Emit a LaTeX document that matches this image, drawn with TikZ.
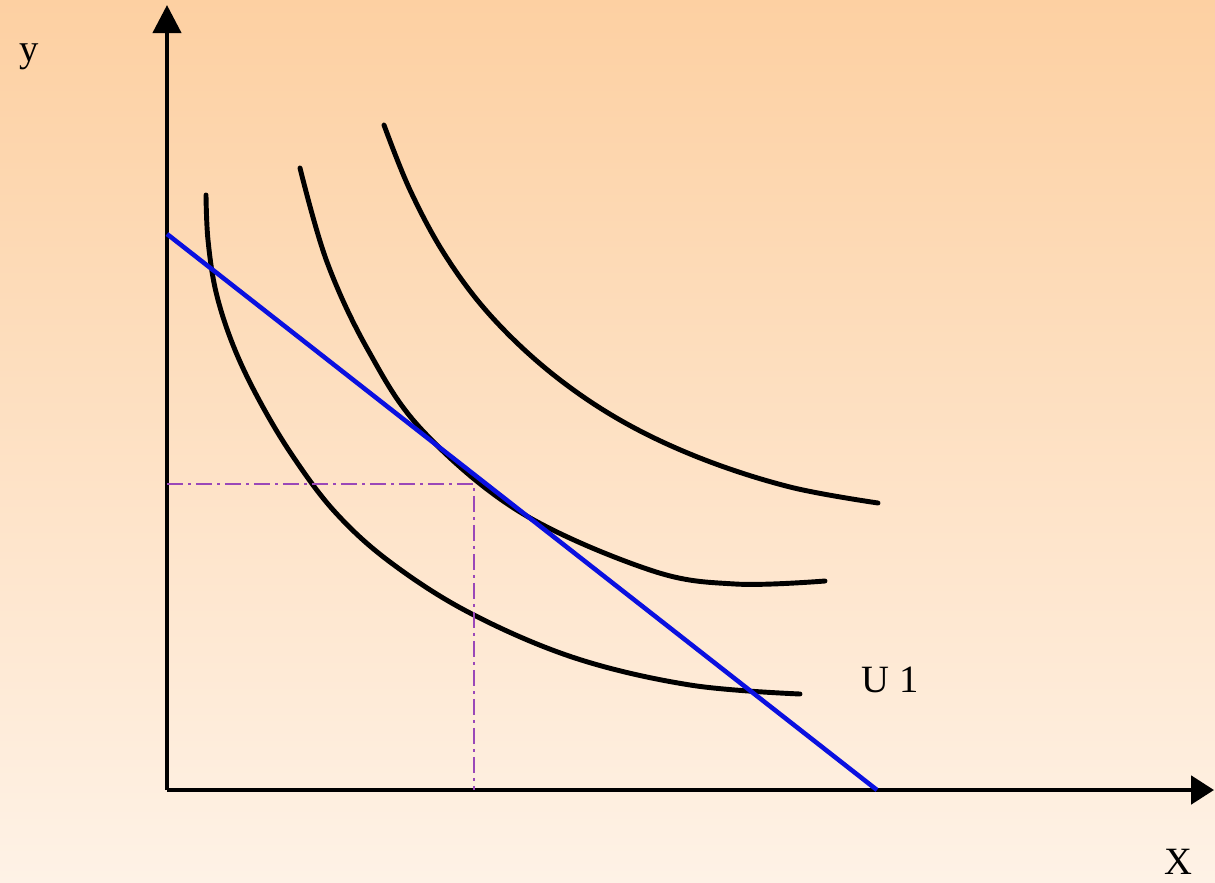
\documentclass[tikz,border=0pt]{standalone}
\usepackage{fontspec}
\setmainfont{Liberation Serif}
\usetikzlibrary{arrows.meta}
\definecolor{bgtop}{HTML}{FDD0A2}
\definecolor{bgbot}{HTML}{FEF2E6}
\definecolor{guide}{HTML}{9A48B8}
\definecolor{budget}{HTML}{0A10E0}
\begin{document}
\begin{tikzpicture}[x=0.02cm,y=-0.02cm,
  axisline/.style={line width=2.4pt},
  curve/.style={line width=2.8pt, line cap=round},
  budgetline/.style={budget, line width=2.6pt},
  guideline/.style={guide, line width=0.9pt, dash pattern=on 9pt off 3pt on 1.5pt off 3pt},
  lbl/.style={font=\fontsize{22}{24}\selectfont, inner sep=0pt}]
\shade[top color=bgtop, bottom color=bgbot] (0,0) rectangle (1215,883);
\useasboundingbox (0,0) rectangle (1215,883);
\coordinate (O) at (167,790);
\coordinate (ytip) at (167,5);
\coordinate (xtip) at (1214,790);
\draw[axisline, -{Triangle[length=16pt,width=16pt]}] (O) -- (ytip);
\draw[axisline, -{Triangle[length=13pt,width=16pt]}] (O) -- (xtip);
\node[lbl] (ylab) at (29,57) {y};
\node[lbl] (xlab) at (1178,862) {X};
\node[lbl] (ulab) at (890,680) {U 1};
% indifference curves
\draw[curve] plot[smooth, tension=0.6] coordinates {(206,195) (208,240) (216,292) (233,345) (258,398) (292,455) (335,512) (390,562) (470,613) (575,658) (690,685) (800,694)};
\draw[curve] plot[smooth, tension=0.6] coordinates {(300,168) (327,262) (368,350) (422,430) (520,512) (650,570) (735,584) (825,581)};
\draw[curve] plot[smooth, tension=0.6] coordinates {(384,125) (410,190) (445,255) (490,315) (550,372) (620,420) (700,458) (790,487) (878,503)};
% budget line
\coordinate (B1) at (167,234);
\coordinate (B2) at (877,790);
\draw[budgetline] (B1) -- (B2);
% guides
\coordinate (gy) at (167,484);
\coordinate (gp) at (474,484);
\coordinate (gx) at (474,790);
\draw[guideline] (gy) -- (gp) -- (gx);
\end{tikzpicture}
\end{document}
